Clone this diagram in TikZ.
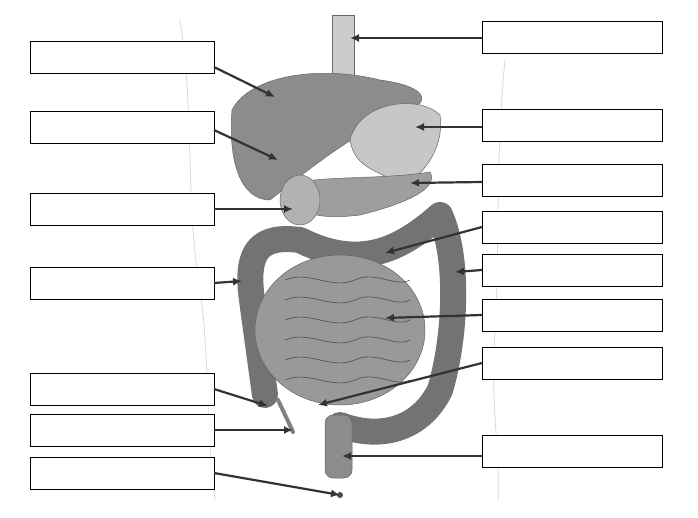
\documentclass[tikz,border=0pt]{standalone}
\usetikzlibrary{arrows.meta}
\begin{document}
\begin{tikzpicture}[x=1pt,y=-1pt,
 box/.style={draw=black,line width=0.8pt,fill=white},
 arr/.style={line width=2.2pt,draw=black!80,-{Latex[length=9pt,width=8pt]}},
 org/.style={fill=black!45,draw=black!60,line width=0.5pt}]
\path[use as bounding box] (0,0) rectangle (698,518);
% body outline
\draw[black!15,line width=0.8pt] (180,20) .. controls (195,120) and (185,200) .. (200,290) .. controls (210,360) and (205,420) .. (215,500);
\draw[black!15,line width=0.8pt] (505,60) .. controls (495,160) and (500,250) .. (495,330) .. controls (490,400) and (500,450) .. (498,500);
% esophagus
\path[org,fill=black!20] (332,15) rectangle (354,130);
% large intestine
\draw[black!55,line width=26pt,line cap=round,line join=round] (265,395) -- (252,300) .. controls (245,250) and (260,235) .. (300,240) .. controls (360,270) and (400,250) .. (440,215) .. controls (460,260) and (455,340) .. (440,390) .. controls (420,430) and (380,440) .. (340,425);
\draw[black!50,line width=4pt,line cap=round] (278,400) .. controls (285,415) and (290,425) .. (293,432);
\path[org,rounded corners=8pt] (325,415) rectangle (352,478);
\fill[black!70] (340,495) circle (3);
% small intestine
\path[org,fill=black!40] (340,330) ellipse (85 and 75);
\foreach \y in {280,300,...,380}{\draw[black!70,line width=0.6pt] (285,\y) .. controls (310,\y-10) and (330,\y+10) .. (355,\y) .. controls (375,\y-10) and (395,\y+8) .. (410,\y);}
% liver
\path[org] (232,110) .. controls (250,75) and (320,65) .. (380,80) .. controls (420,85) and (440,100) .. (400,115) .. controls (360,130) and (320,160) .. (270,200) .. controls (240,200) and (228,160) .. (232,110) -- cycle;
% stomach
\path[org,fill=black!22] (350,140) .. controls (360,100) and (420,95) .. (440,115) .. controls (445,150) and (420,180) .. (400,185) .. controls (380,170) and (355,170) .. (350,140) -- cycle;
% pancreas / gall
\path[org,fill=black!38] (285,185) .. controls (320,175) and (380,180) .. (430,172) .. controls (440,190) and (400,205) .. (360,215) .. controls (320,220) and (290,215) .. (285,185) -- cycle;
\path[org,fill=black!30] (300,200) ellipse (20 and 25);
% boxes
\foreach \y in {41,111,193,267,373,414,457}{\path[box] (30,\y) rectangle (214,\y+32);}
\foreach \y in {21,109,164,211,254,299,347,435}{\path[box] (482,\y) rectangle (662,\y+32);}
% arrows
\draw[arr] (214,67) -- (275,97);
\draw[arr] (214,130) -- (278,160);
\draw[arr] (214,209) -- (293,209);
\draw[arr] (214,283) -- (242,281);
\draw[arr] (214,389) -- (268,406);
\draw[arr] (214,430) -- (293,430);
\draw[arr] (214,473) -- (340,495);
\draw[arr] (482,38) -- (350,38);
\draw[arr] (482,127) -- (415,127);
\draw[arr] (482,182) -- (410,183);
\draw[arr] (482,227) -- (385,253);
\draw[arr] (482,270) -- (455,272);
\draw[arr] (482,315) -- (385,318);
\draw[arr] (482,363) -- (318,405);
\draw[arr] (482,456) -- (342,456);
\end{tikzpicture}
\end{document}
